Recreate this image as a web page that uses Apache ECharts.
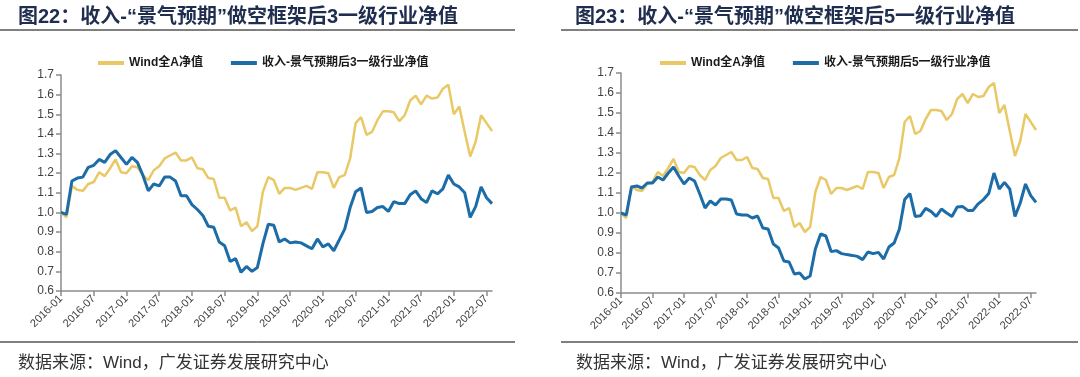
<!DOCTYPE html>
<html>
<head>
<meta charset="utf-8">
<script src="https://cdn.jsdelivr.net/npm/echarts@6/dist/echarts.min.js"></script>
<style>
  html, body { margin: 0; padding: 0; background: #fff; }
  #main { width: 1080px; height: 377px; }
</style>
</head>
<body>
<div id="main"></div>
<script>
// monthly points 2016-01 .. 2022-08
var months = [];
for (var y = 2016; y <= 2022; y++) {
    for (var m = 1; m <= 12; m++) {
        if (y === 2022 && m > 8) break;
        months.push(y + '-' + (m < 10 ? '0' + m : m));
    }
}

var yTicks = [0.6, 0.7, 0.8, 0.9, 1.0, 1.1, 1.2, 1.3, 1.4, 1.5, 1.6, 1.7];

var windA = [1.00, 0.975, 1.135, 1.115, 1.11, 1.145, 1.155, 1.205, 1.185, 1.225, 1.27, 1.205,
    1.20, 1.235, 1.23, 1.19, 1.165, 1.215, 1.235, 1.275, 1.29, 1.305, 1.265, 1.265,
    1.28, 1.225, 1.22, 1.175, 1.17, 1.075, 1.075, 1.01, 1.025, 0.93, 0.95, 0.905,
    0.93, 1.105, 1.18, 1.165, 1.095, 1.125, 1.125, 1.115, 1.125, 1.135, 1.12, 1.205,
    1.205, 1.20, 1.125, 1.18, 1.19, 1.275, 1.455, 1.485, 1.395, 1.41, 1.47, 1.515,
    1.515, 1.51, 1.465, 1.495, 1.57, 1.595, 1.55, 1.595, 1.58, 1.585, 1.63, 1.65,
    1.50, 1.54, 1.41, 1.285, 1.36, 1.495, 1.455, 1.415];

var after3 = [1.00, 0.99, 1.16, 1.175, 1.18, 1.23, 1.24, 1.27, 1.255, 1.295, 1.315, 1.28,
    1.245, 1.28, 1.255, 1.19, 1.11, 1.145, 1.135, 1.18, 1.18, 1.16, 1.085, 1.085,
    1.04, 1.015, 0.985, 0.93, 0.925, 0.85, 0.83, 0.75, 0.765, 0.695, 0.725, 0.70,
    0.72, 0.84, 0.94, 0.935, 0.85, 0.865, 0.845, 0.85, 0.845, 0.83, 0.815, 0.865,
    0.825, 0.84, 0.805, 0.86, 0.915, 1.025, 1.105, 1.125, 1.00, 1.005, 1.025, 1.03,
    1.005, 1.055, 1.045, 1.045, 1.09, 1.11, 1.07, 1.05, 1.11, 1.095, 1.12, 1.19,
    1.145, 1.13, 1.10, 0.975, 1.03, 1.13, 1.075, 1.045];

var after5 = [1.00, 0.99, 1.13, 1.135, 1.125, 1.15, 1.15, 1.18, 1.165, 1.20, 1.23, 1.185,
    1.145, 1.175, 1.16, 1.095, 1.025, 1.06, 1.04, 1.07, 1.07, 1.065, 0.995, 0.99,
    0.99, 0.975, 0.985, 0.925, 0.92, 0.845, 0.825, 0.76, 0.755, 0.695, 0.70, 0.67,
    0.685, 0.82, 0.895, 0.885, 0.807, 0.812, 0.797, 0.792, 0.788, 0.783, 0.767, 0.805,
    0.797, 0.803, 0.77, 0.83, 0.85, 0.92, 1.067, 1.097, 0.983, 0.986, 1.023, 1.008,
    0.983, 1.02, 1.0, 0.983, 1.03, 1.033, 1.013, 1.013, 1.046, 1.067, 1.097, 1.20,
    1.12, 1.153, 1.12, 0.983, 1.05, 1.145, 1.087, 1.053];

var nameA = 'Wind全A净值';
var name3 = '收入-景气预期后3一级行业净值';
var name5 = '收入-景气预期后5一级行业净值';

var YELLOW = '#E9C866';
var BLUE = '#1C6CA8';
var cjk = '"Liberation Sans", Arial, "Noto Sans CJK SC", sans-serif';

function xAxis(idx) {
    return {
        type: 'category',
        gridIndex: idx,
        data: months,
        boundaryGap: false,
        axisLine: { lineStyle: { color: '#8c8c8c', width: 1.5 } },
        axisTick: { interval: 5, length: 5, lineStyle: { color: '#8c8c8c', width: 1.5 } },
        axisLabel: { interval: 5, rotate: 45, fontSize: 11, color: '#404040', margin: 6, fontFamily: cjk },
        splitLine: { show: false }
    };
}

function yAxis(idx) {
    return {
        type: 'value',
        gridIndex: idx,
        min: yTicks[0],
        max: yTicks[yTicks.length - 1],
        interval: 0.1,
        axisLine: { show: true, lineStyle: { color: '#8c8c8c', width: 1.5 } },
        axisTick: { show: true, length: 5, lineStyle: { color: '#8c8c8c', width: 1.5 } },
        axisLabel: {
            fontSize: 12, color: '#404040', margin: 7, fontFamily: cjk,
            formatter: function (v) { return v.toFixed(1); }
        },
        splitLine: { show: false }
    };
}

function line(name, data, color, width, idx) {
    return {
        name: name,
        type: 'line',
        xAxisIndex: idx,
        yAxisIndex: idx,
        data: data,
        symbol: 'none',
        lineStyle: { color: color, width: width },
        itemStyle: { color: color },
        z: color === BLUE ? 3 : 2
    };
}

function legend(left, names) {
    return {
        left: left,
        top: 52,
        itemWidth: 26,
        itemHeight: 4,
        itemGap: 28,
        icon: 'rect',
        data: names,
        textStyle: { fontSize: 12, fontWeight: 'bold', color: '#1a1a1a', fontFamily: cjk }
    };
}

var titleStyle = { fontSize: 20, fontWeight: 'bold', color: '#1F2D4E', fontFamily: cjk };
var srcStyle = { fontSize: 17, fontWeight: 'normal', color: '#333', fontFamily: cjk };

var option = {
    animation: false,
    backgroundColor: '#fff',
    title: [
        { text: '图22：收入-“景气预期”做空框架后3一级行业净值', left: 13, top: 2, textStyle: titleStyle },
        { text: '图23：收入-“景气预期”做空框架后5一级行业净值', left: 570, top: 2, textStyle: titleStyle },
        { text: '数据来源：Wind，广发证券发展研究中心', left: 13, top: 350, textStyle: srcStyle },
        { text: '数据来源：Wind，广发证券发展研究中心', left: 571, top: 350, textStyle: srcStyle }
    ],
    legend: [
        legend(93, [nameA, name3]),
        legend(655, [nameA, name5])
    ],
    grid: [
        { left: 61, top: 75, width: 431, height: 216 },
        { left: 621, top: 73, width: 415, height: 220 }
    ],
    xAxis: [xAxis(0), xAxis(1)],
    yAxis: [yAxis(0), yAxis(1)],
    series: [
        line(nameA, windA, YELLOW, 2.5, 0),
        line(name3, after3, BLUE, 3, 0),
        line(nameA, windA, YELLOW, 2.5, 1),
        line(name5, after5, BLUE, 3, 1)
    ],
    graphic: [
        { type: 'line', shape: { x1: 0, y1: 30, x2: 515, y2: 30 }, style: { stroke: '#000', lineWidth: 1 } },
        { type: 'line', shape: { x1: 0, y1: 342, x2: 515, y2: 342 }, style: { stroke: '#000', lineWidth: 1 } },
        { type: 'line', shape: { x1: 561, y1: 30, x2: 1078, y2: 30 }, style: { stroke: '#000', lineWidth: 1 } },
        { type: 'line', shape: { x1: 561, y1: 342, x2: 1078, y2: 342 }, style: { stroke: '#000', lineWidth: 1 } }
    ]
};

var chart = echarts.init(document.getElementById('main'));
chart.setOption(option);
</script>
</body>
</html>
